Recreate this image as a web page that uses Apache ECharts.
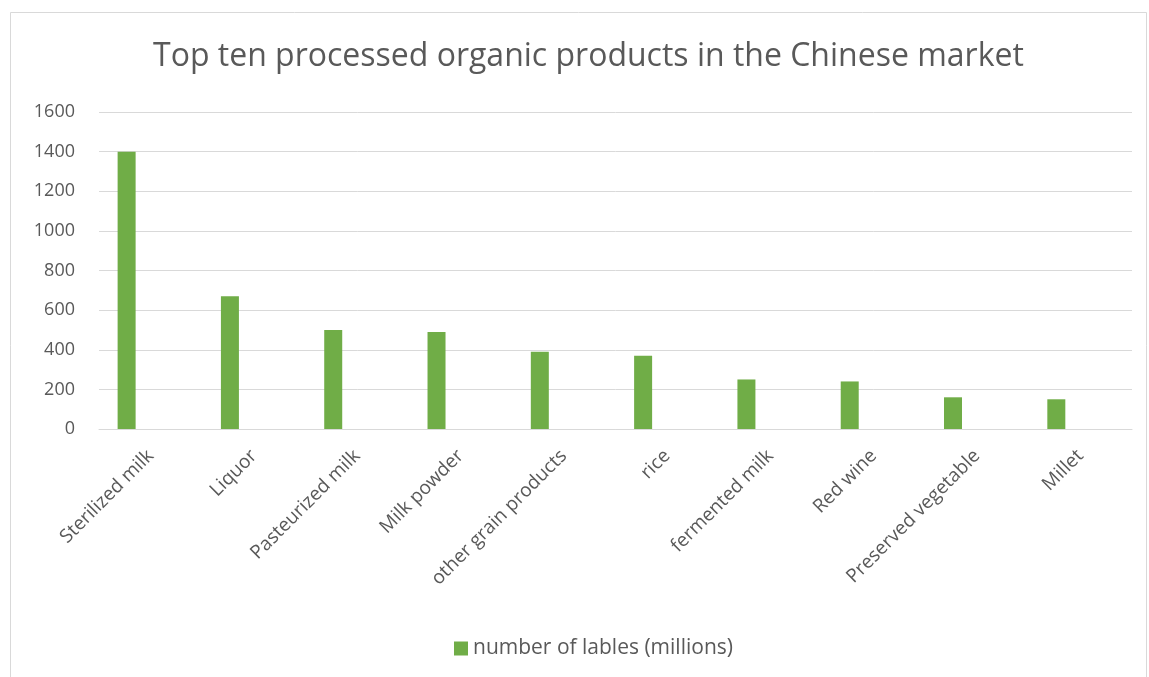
<!DOCTYPE html>
<html>
<head>
<meta charset="utf-8">
<script src="https://cdn.jsdelivr.net/npm/echarts@6/dist/echarts.min.js"></script>
<style>
  html, body { margin: 0; padding: 0; background: #fff; }
  #main { width: 1149px; height: 677px; }
</style>
</head>
<body>
<div id="main"></div>
<script>
// 数据
var categories = ['Sterilized milk', 'Liquor', 'Pasteurized milk', 'Milk powder', 'other grain products',
  'rice', 'fermented milk', 'Red wine', 'Preserved vegetable', 'Millet'];
var labelCounts = [1400, 670, 500, 490, 390, 370, 250, 240, 160, 150];
var emptySeries = [];  // Excel 里第二个空系列，让柱子偏左
var seriesName = 'number of lables (millions)';

var font = '"Open Sans", "Liberation Sans", sans-serif';
var chart = echarts.init(document.getElementById('main'), null, { renderer: 'canvas' });

var option = {
  backgroundColor: '#fff',
  animation: false,
  title: {
    text: 'Top ten processed organic products in the Chinese market',
    left: 148,
    top: 36,
    textStyle: { fontFamily: font, fontSize: 32, fontWeight: 'normal', color: '#595959' }
  },
  legend: {
    data: [{ name: seriesName, icon: 'rect' }],
    bottom: 13,
    left: 449,
    itemWidth: 14,
    itemHeight: 14,
    itemGap: 6,
    textStyle: { fontFamily: font, fontSize: 21, color: '#595959' }
  },
  grid: { left: 99, right: 17, top: 112, bottom: 248, containLabel: false },
  xAxis: {
    type: 'category',
    data: categories,
    axisLine: { lineStyle: { color: '#d9d9d9', width: 1 } },
    axisTick: { show: false },
    axisLabel: {
      interval: 0,
      rotate: 45,
      margin: 24,
      fontFamily: font,
      fontSize: 19,
      color: '#595959'
    }
  },
  yAxis: {
    type: 'value',
    min: 0,
    max: 1600,
    interval: 200,
    axisLine: { show: false },
    axisTick: { show: false },
    splitLine: { lineStyle: { color: '#d9d9d9', width: 1 } },
    axisLabel: {
      margin: 24,
      fontFamily: font,
      fontSize: 18,
      color: '#595959',
      formatter: function (v) { return String(v); }
    }
  },
  series: [
    {
      name: seriesName,
      type: 'bar',
      data: labelCounts,
      barWidth: 18,
      barGap: '167%',
      itemStyle: { color: '#70ad47' }
    },
    {
      name: 'empty',
      type: 'bar',
      data: emptySeries,
      barWidth: 18
    }
  ],
  graphic: [{
    type: 'rect',
    shape: { x: 10.5, y: 12.5, width: 1136, height: 700 },
    style: { fill: 'none', stroke: '#d9d9d9', lineWidth: 1 },
    silent: true
  }]
};
chart.setOption(option);
</script>
</body>
</html>
